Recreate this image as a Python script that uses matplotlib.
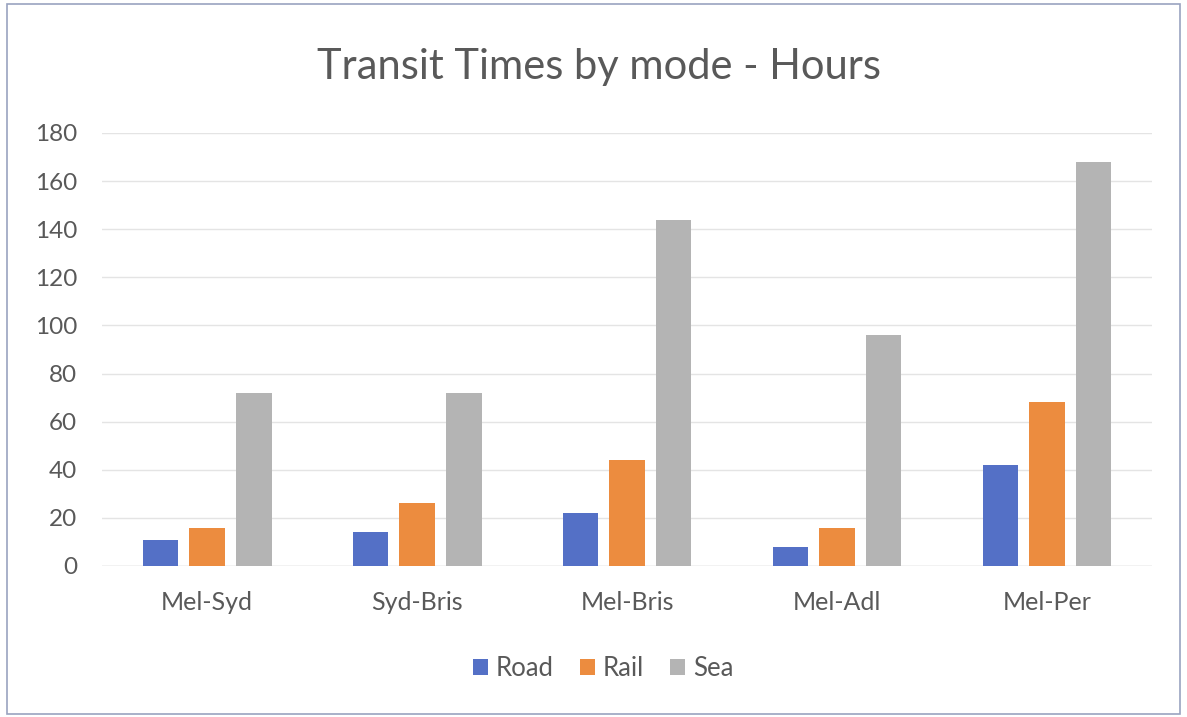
import numpy as np
import matplotlib
matplotlib.use("Agg")
import matplotlib.pyplot as plt
from matplotlib.patches import Rectangle

routes = ["Mel-Syd", "Syd-Bris", "Mel-Bris", "Mel-Adl", "Mel-Per"]
road = [11, 14, 22, 8, 42]
rail = [16, 26, 44, 16, 68]
sea = [72, 72, 144, 96, 168]
series = ["Road", "Rail", "Sea"]
colors = ["#5470c6", "#ec8c3f", "#b4b4b4"]

plt.rcParams['font.family'] = ['Lato', 'DejaVu Sans']
textColor = "#595959"

fig = plt.figure(figsize=(11.87, 7.17), dpi=100)
ax = fig.add_axes([0.086, 0.2106, 0.8845, 0.604])

x = np.arange(len(routes))
width = 0.17
step = 0.222
for i, (name, vals, col) in enumerate(zip(series, [road, rail, sea], colors)):
    ax.bar(x + (i - 1) * step, vals, width, color=col, label=name, zorder=3)

ax.set_xlim(-0.5, len(routes) - 0.5)
ax.set_ylim(0, 180)
ax.set_yticks(range(0, 181, 20))
ax.set_xticks(x)
ax.set_xticklabels(routes)
ax.tick_params(axis='both', length=0, colors=textColor)
ax.tick_params(axis='y', labelsize=17.5, pad=18)
ax.tick_params(axis='x', labelsize=18, pad=18)
ax.grid(axis='y', color="#e4e4e4", linewidth=1, zorder=0)
for s in ax.spines.values():
    s.set_visible(False)
ax.axhline(0, color="#d9d9d9", linewidth=1, zorder=2)

fig.text(0.505, 0.907, "Transit Times by mode - Hours", ha='center', va='center',
         fontsize=30, color=textColor)

leg = fig.legend(loc='center', bbox_to_anchor=(0.508, 0.068), ncol=3, frameon=False,
                 fontsize=18.5, handlelength=0.6, handleheight=0.6, handletextpad=0.3,
                 columnspacing=1.0)
for t in leg.get_texts():
    t.set_color(textColor)

fig.patches.append(Rectangle((0.006, 0.004), 0.988, 0.99, transform=fig.transFigure,
                             fill=False, edgecolor="#9aa3c0", linewidth=1.2))

fig.savefig("out.png", dpi=100)
